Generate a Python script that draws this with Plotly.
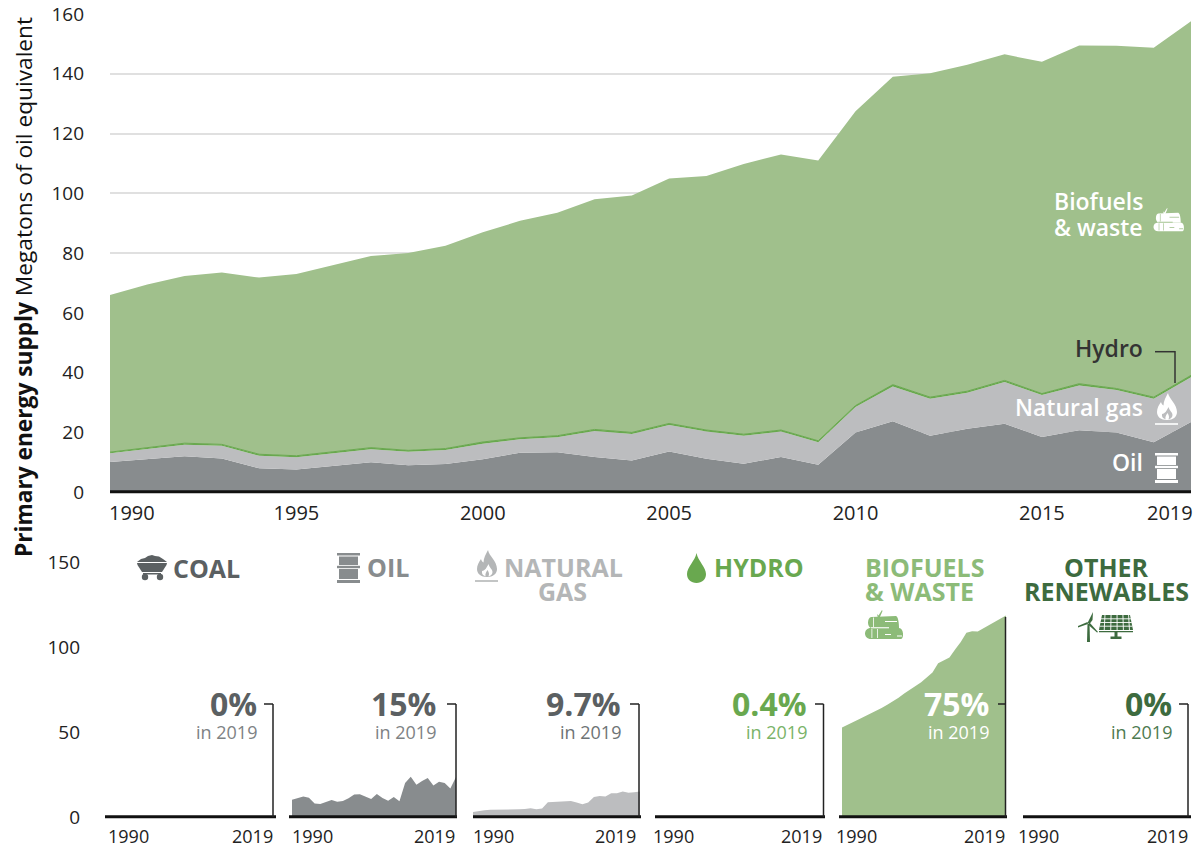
import plotly.graph_objects as go

# ---------- data ----------
years = list(range(1990, 2020))
coal = [0] * 30
oil = [10.1, 11.0, 12.0, 11.3, 8.0, 7.6, 8.9, 10.0, 9.0, 9.4, 11.0, 13.2, 13.4, 11.8, 10.6,
       13.6, 11.2, 9.5, 11.8, 9.2, 20.0, 23.7, 18.9, 21.2, 22.9, 18.5, 20.7, 20.0, 16.7, 23.5]
gas = [2.9, 3.5, 3.9, 4.2, 4.2, 4.1, 4.1, 4.4, 4.5, 4.7, 5.2, 4.5, 5.0, 8.7, 8.9,
       8.9, 9.1, 9.4, 8.5, 7.5, 8.5, 11.7, 12.4, 12.1, 14.0, 14.0, 15.0, 14.2, 14.6, 15.0]
hydro = [0.4, 0.5, 0.5, 0.5, 0.5, 0.5, 0.5, 0.5, 0.5, 0.5, 0.6, 0.5, 0.5, 0.5, 0.5,
         0.5, 0.5, 0.5, 0.5, 0.5, 0.5, 0.6, 0.5, 0.5, 0.5, 0.5, 0.6, 0.5, 0.5, 0.6]
biofuels = [52.6, 54.5, 55.9, 57.5, 59.1, 60.8, 62.5, 64.1, 66.0, 67.9, 70.2, 72.6, 74.6, 77.0, 79.3,
            82.0, 85.0, 90.4, 92.2, 93.8, 98.5, 103.0, 108.4, 109.2, 109.1, 111.0, 113.2, 114.7, 116.9, 118.5]
other = [0] * 30

main_y_ticks = [0, 20, 40, 60, 80, 100, 120, 140, 160]
main_x_ticks = [1995, 2000, 2005, 2010, 2015]
small_y_ticks = [0, 50, 100, 150]
shares = ["0%", "15%", "9.7%", "0.4%", "75%", "0%"]

C_OIL = "#888c8e"
C_GAS = "#bcbdbf"
C_HYDRO = "#69a84f"
C_BIO = "#a0c08c"
C_OTHER = "#3d6b3f"
C_DARK = "#5b6062"
FONT = "Open Sans"
W, H = 1200, 855


def fx(x):
    return x / W


def fy(y):
    return 1 - y / H


fig = go.Figure()
series = [("Coal", coal, "#5b6062"), ("Oil", oil, C_OIL), ("Natural gas", gas, C_GAS),
          ("Hydro", hydro, C_HYDRO), ("Biofuels & waste", biofuels, C_BIO), ("Other renewables", other, C_OTHER)]

# main stacked chart
for name, vals, col in series:
    lw = 1.0 if name == "Hydro" else 0
    fig.add_trace(go.Scatter(x=years, y=vals, name=name, mode="lines", stackgroup="one",
                             line=dict(width=lw, color=col), fillcolor=col, showlegend=False))

layout = dict(
    template="none",
    width=W, height=H, autosize=False, margin=dict(l=0, r=0, t=0, b=0),
    paper_bgcolor="white", plot_bgcolor="white", showlegend=False,
    font=dict(family=FONT, color="#222222"),
    xaxis=dict(domain=[fx(110), fx(1191)], range=[1990, 2019], tickmode="array", tickvals=main_x_ticks,
               showgrid=False, zeroline=False, showline=False, ticks="", tickfont=dict(size=20, color="#222222"),
               ticklabelstandoff=7, anchor="y", automargin=False),
    yaxis=dict(domain=[fy(492.2), fy(14)], range=[0, 160], tickmode="array", tickvals=main_y_ticks,
               showgrid=True, gridcolor="#e0e0e0", gridwidth=1.5, zeroline=False, showline=False, ticks="",
               tickfont=dict(size=19, color="#222222"), ticklabelstandoff=25, anchor="x", automargin=False),
)

# small multiples: (baseline left, baseline right, data left, data right, vertical x, tick start, share right, 1990 left, 2019 right)
panels = [
    (105, 276, 108, 273, 273, 264, 257, 108, 273),
    (289, 457, 292, 456, 456, 447, 436, 292, 455),
    (473, 641, 473, 640, 639, 630, 621, 473, 636),
    (655, 825, 657, 823, 823.5, 815, 807, 653, 822),
    (839, 1007, 842, 1006, 1005.5, 998, 989, 836, 1005),
    (1023, 1191, 1026, 1188, 1188, 1179, 1172, 1018, 1188),
]
shapes = []
annos = []


def text(x, y, s, size, color, anchor="left", weight=400, angle=0):
    annos.append(dict(xref="paper", yref="paper", x=fx(x), y=fy(y), text=s, showarrow=False,
                      xanchor=anchor, yanchor="middle", borderpad=0, borderwidth=0, textangle=angle,
                      font=dict(family=FONT, size=size, color=color, weight=weight)))


def line(x0, y0, x1, y1, color, width):
    shapes.append(dict(type="line", xref="paper", yref="paper", x0=fx(x0), y0=fy(y0), x1=fx(x1), y1=fy(y1),
                       line=dict(color=color, width=width), layer="above"))


def rect(x0, y0, x1, y1, color):
    shapes.append(dict(type="rect", xref="paper", yref="paper", x0=fx(x0), y0=fy(y0), x1=fx(x1), y1=fy(y1),
                       fillcolor=color, line=dict(width=0), layer="above"))


def path(cmds, ox, oy, s, color):
    """cmds: list of (letter, coords...) in icon units."""
    out = []
    for c in cmds:
        pts = c[1:]
        seg = [c[0]]
        for i in range(0, len(pts), 2):
            seg.append(f"{fx(ox + pts[i] * s):.5f},{fy(oy + pts[i + 1] * s):.5f}")
        out.append(" ".join(seg))
    shapes.append(dict(type="path", xref="paper", yref="paper", path=" ".join(out) + " Z",
                       fillcolor=color, line=dict(width=0), layer="above"))


def circle(cx, cy, r, color):
    shapes.append(dict(type="circle", xref="paper", yref="paper", x0=fx(cx - r), x1=fx(cx + r),
                       y0=fy(cy - r), y1=fy(cy + r), fillcolor=color, line=dict(width=0), layer="above"))


def barrel(x, y, color):
    rect(x, y, x + 23, y + 2.5, color)
    rect(x + 2, y + 3.5, x + 21, y + 12, color)
    rect(x, y + 12.8, x + 23, y + 15.2, color)
    rect(x + 2, y + 16, x + 21, y + 26, color)
    rect(x, y + 27, x + 23, y + 30, color)


def flame(x, y, color, inner):
    # 20 wide, 27 tall, with base bar below
    path([("M", 11, 0), ("C", 12, 6, 20, 11, 20, 19), ("C", 20, 24, 16, 27, 10, 27), ("C", 4, 27, 0, 24, 0, 19),
          ("C", 0, 15, 2, 12, 4, 9), ("C", 4.5, 11, 5.5, 12, 6.5, 12.5), ("C", 6.5, 8, 9, 4, 11, 0)], x, y, 1, color)
    path([("M", 11.5, 14), ("C", 12.5, 18, 15.5, 19, 15.5, 22), ("C", 15.5, 24, 14, 26, 11.5, 26.3),
          ("C", 12.5, 24, 12, 22.5, 10.5, 20), ("C", 9.5, 22, 8, 23, 8.5, 26.3), ("C", 6, 25.5, 4.5, 24, 5, 21),
          ("C", 8, 21, 10, 17, 11.5, 14)], x, y, 1, inner)
    rect(x - 2, y + 30.2, x + 21, y + 31.8, color)


def logs(x, y, s, color, bg):
    # leaf
    path([("M", 13, 8), ("L", 12, 4), ("L", 13.5, 5.5), ("L", 17, 0), ("L", 17.5, 1), ("L", 14.5, 8)], x, y, s, color)
    # upper log
    path([("M", 6, 7), ("L", 31, 6), ("C", 34, 7, 34, 18, 34, 18), ("L", 6, 18),
          ("C", 2, 17, 2, 8, 6, 7)], x, y, s, color)
    # lower logs
    path([("M", 6, 18), ("L", 34, 18), ("C", 39, 18, 39, 29, 36, 29), ("L", 6, 29),
          ("C", -2, 29, -2, 18, 6, 18)], x, y, s, color)
    # cuts
    rect(x + 6 * s, y + 17.2 * s, x + 24 * s, y + 18.3 * s, bg)
    rect(x + 20 * s, y + 11 * s, x + 32 * s, y + 12 * s, bg)
    rect(x + 20 * s, y + 24 * s, x + 26 * s, y + 25 * s, bg)
    rect(x + 32 * s, y + 25.5 * s, x + 37 * s, y + 26.5 * s, bg)
    rect(x + 6.5 * s, y + 19 * s, x + 7.3 * s, y + 28 * s, bg)
    rect(x + 12 * s, y + 19 * s, x + 12.8 * s, y + 28 * s, bg)
    rect(x + 8 * s, y + 7.5 * s, x + 8.8 * s, y + 17 * s, bg)


# Small panel traces, axes, baselines
for i, (b0, b1, d0, d1, vx, t0, sr, l90, r19) in enumerate(panels):
    n = i + 2
    name, vals, col = series[i]
    fig.add_trace(go.Scatter(x=years, y=vals, name=name + " (panel)", mode="lines", fill="tozeroy",
                             line=dict(width=0, color=col), fillcolor=col, xaxis=f"x{n}", yaxis=f"y{n}",
                             showlegend=False))
    layout[f"xaxis{n}"] = dict(domain=[fx(d0), fx(d1)], range=[1990, 2019], showticklabels=False, ticks="",
                               showgrid=False, zeroline=False, showline=False, anchor=f"y{n}", automargin=False)
    layout[f"yaxis{n}"] = dict(domain=[fy(817), fy(562)], range=[0, 150], tickmode="array",
                               tickvals=small_y_ticks, showticklabels=(i == 0), ticks="", showgrid=False,
                               zeroline=False, showline=False, anchor=f"x{n}", automargin=False,
                               tickfont=dict(size=19, color="#222222"), ticklabelstandoff=27)
    line(b0, 816.7, b1, 816.7, "#111111", 3)
    top = 617 if i == 4 else 704
    line(vx, 817, vx, top, "#222222", 1.5)
    line(t0, 704, vx, 704, "#222222", 1.5)
    text(l90, 836, "1990", 18, "#222222", "left")
    text(r19, 836, "2019", 18, "#222222", "right")
    pct_col = [C_DARK, C_DARK, C_DARK, C_HYDRO, "white", C_OTHER][i]
    sub_col = ["#7e8284", "#7e8284", "#6e7375", "#7ab368", "white", "#4d7a50"][i]
    text(sr, 703, shares[i], 32, pct_col, "right", 700)
    text(sr, 732, "in 2019", 18, sub_col, "right")

# main baseline and year end labels
line(110, 491.8, 1191, 491.8, "#111111", 3)
text(109, 512, "1990", 20, "#222222", "left")
text(1193, 512, "2019", 20, "#222222", "right")

# axis title
text(23, 287, "<b>Primary energy supply</b> Megatons of oil equivalent", 22.7, "#111111", "center", angle=-90)

# direct labels in main chart
text(1143, 201, "Biofuels", 23, "white", "right", 600)
text(1143, 227, "& waste", 23, "white", "right", 600)
text(1143, 348, "Hydro", 23, "#333333", "right", 600)
text(1143, 407, "Natural gas", 23, "white", "right", 600)
text(1143, 462, "Oil", 23, "white", "right", 600)
line(1155, 351.7, 1175, 351.7, "#333333", 1.5)
line(1175, 351, 1175, 383, "#333333", 1.5)

# panel titles
T = 25
text(173, 568, "COAL", T, C_DARK, "left", 700)
text(367, 567, "OIL", T, C_OIL, "left", 700)
text(504, 567, "NATURAL", T, "#b4b6b7", "left", 700)
text(562, 591, "GAS", T, "#b4b6b7", "center", 700)
text(714, 567, "HYDRO", T, C_HYDRO, "left", 700)
text(865, 567, "BIOFUELS", T, "#8cbb78", "left", 700)
text(865, 591, "& WASTE", T, "#8cbb78", "left", 700)
text(1106, 567, "OTHER", T, C_OTHER, "center", 700)
text(1106, 591, "RENEWABLES", T, C_OTHER, "center", 700)

# icons
barrel(337, 553, C_OIL)
barrel(1155, 453, "white")
flame(477, 550, "#b4b6b7", "white")
flame(1157, 393, "white", C_GAS)
logs(865, 610, 1.0, "#8cbb78", "white")
logs(1153.5, 208, 0.8, "white", C_BIO)

# drop
path([("M", 9.5, 0), ("C", 11, 8, 19, 14, 19, 21), ("C", 19, 26.5, 15, 30, 9.5, 30),
      ("C", 4, 30, 0, 26.5, 0, 21), ("C", 0, 14, 8, 8, 9.5, 0)], 687, 553, 1, C_HYDRO)

# coal cart
path([("M", 0, 7), ("L", 4, 4), ("L", 8, 3), ("L", 11, 1), ("L", 15, 0), ("L", 18, 1), ("L", 22, 1.5),
      ("L", 26, 4), ("L", 30, 7)], 137, 555, 1, C_DARK)
path([("M", 0, 8), ("L", 30, 8), ("L", 29.5, 10), ("L", 25, 17), ("L", 5, 17), ("L", 0.5, 10)], 137, 555, 1, C_DARK)
rect(143, 573, 161, 574.5, C_DARK)
circle(145, 577, 3.2, C_DARK)
circle(160, 577, 3.2, C_DARK)

# wind turbine
path([("M", 9.5, 12), ("L", 11.5, 12), ("L", 12, 30), ("L", 9, 30)], 1078, 612, 1, C_OTHER)
path([("M", 9.5, 11), ("L", 15, 0), ("L", 14.5, 8), ("L", 11.5, 12)], 1078, 612, 1, C_OTHER)
path([("M", 10, 12), ("L", 0, 15.5), ("L", 0, 14), ("L", 9.5, 10)], 1078, 612, 1, C_OTHER)
path([("M", 11.5, 10.5), ("L", 20, 20), ("L", 19, 20.5), ("L", 10.5, 13)], 1078, 612, 1, C_OTHER)

# solar panel
path([("M", 3, 0), ("L", 31, 0), ("L", 34, 15), ("L", 0, 15)], 1099, 615, 1, C_OTHER)
for gx in (6.5, 12.3, 18, 23.6, 29):
    line(1099 + gx - (gx - 17) * (-0.05), 615, 1099 + gx + (gx - 17) * 0.12, 630, "white", 0.9)
for gy, a, b in ((3.8, 1.8, 32.2), (7.5, 1.2, 32.8), (11.2, 0.6, 33.4)):
    line(1099 + a, 615 + gy, 1099 + b, 615 + gy, "white", 0.9)
rect(1099, 631, 1133, 632.2, C_OTHER)
rect(1114.5, 632, 1117.5, 637, C_OTHER)
rect(1110.5, 636.5, 1121.5, 639, C_OTHER)

layout["shapes"] = shapes
layout["annotations"] = annos
fig.update_layout(**layout)
fig.write_html("out.html", config={"displayModeBar": False},
               post_script="document.body.style.margin='0';document.documentElement.style.overflow='hidden';")
